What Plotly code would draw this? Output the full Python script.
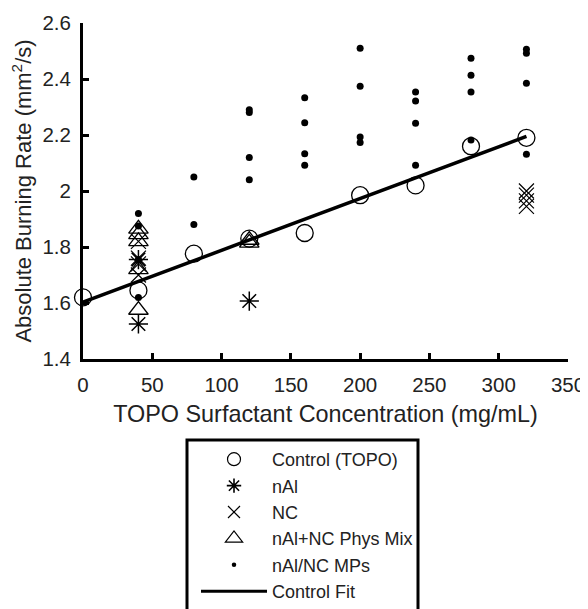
import plotly.graph_objects as go

# ---- data ----
control_x = [0, 40, 80, 120, 160, 200, 240, 280, 320]
control_y = [1.62, 1.645, 1.776, 1.83, 1.85, 1.985, 2.02, 2.16, 2.19]

nal_x = [40, 40, 120]
nal_y = [1.755, 1.525, 1.607]

nc_x = [40, 40, 40, 40, 320, 320, 320, 320]
nc_y = [1.82, 1.76, 1.74, 1.70, 2.00, 1.985, 1.965, 1.945]

mix_x = [40, 40, 40, 40, 40, 120, 120]
mix_y = [1.865, 1.845, 1.82, 1.72, 1.575, 1.825, 1.815]

mp_x = [40, 40, 40, 40,
        80, 80,
        120, 120, 120, 120,
        160, 160, 160, 160,
        200, 200, 200, 200,
        240, 240, 240, 240,
        280, 280, 280, 280,
        320, 320, 320, 320]
mp_y = [1.92, 1.875, 1.755, 1.62,
        2.05, 1.88,
        2.29, 2.28, 2.12, 2.04,
        2.333, 2.244, 2.133, 2.092,
        2.51, 2.374, 2.193, 2.173,
        2.354, 2.321, 2.242, 2.092,
        2.474, 2.413, 2.354, 2.182,
        2.506, 2.492, 2.385, 2.131]

fit_x = [0, 320]
fit_y = [1.603, 2.195]

x_ticks = [0, 50, 100, 150, 200, 250, 300, 350]
y_ticks = [1.4, 1.6, 1.8, 2.0, 2.2, 2.4, 2.6]
y_tick_labels = ["1.4", "1.6", "1.8", "2", "2.2", "2.4", "2.6"]

names = ["Control (TOPO)", "nAl", "NC", "nAl+NC Phys Mix", "nAl/NC MPs", "Control Fit"]

FONT = "Liberation Sans, Arial, sans-serif"
fig = go.Figure()

def mk(symbol, size, lw=1.3):
    return dict(symbol=symbol, size=size, color="black",
                line=dict(color="black", width=lw))

# plotted data (no legend)
fig.add_trace(go.Scatter(x=mp_x, y=mp_y, mode="markers", showlegend=False,
                         marker=dict(symbol="circle", size=7, color="black"), cliponaxis=False))
fig.add_trace(go.Scatter(x=control_x, y=control_y, mode="markers", showlegend=False,
                         marker=mk("circle-open", 17), cliponaxis=False))
fig.add_trace(go.Scatter(x=nal_x, y=nal_y, mode="markers", showlegend=False,
                         marker=mk("asterisk-open", 16, 1.5), cliponaxis=False))
fig.add_trace(go.Scatter(x=nc_x, y=nc_y, mode="markers", showlegend=False,
                         marker=mk("x-thin-open", 15, 1.2), cliponaxis=False))
fig.add_trace(go.Scatter(x=mix_x, y=mix_y, mode="markers", showlegend=False,
                         marker=mk("triangle-up-open", 17), cliponaxis=False))
fig.add_trace(go.Scatter(x=fit_x, y=fit_y, mode="lines", showlegend=False,
                         line=dict(color="black", width=3.5), cliponaxis=False))

# legend entries
leg_specs = [
    dict(mode="markers", marker=mk("circle-open", 13, 1.2)),
    dict(mode="markers", marker=mk("asterisk-open", 12, 1.6)),
    dict(mode="markers", marker=mk("x-thin-open", 12, 1.2)),
    dict(mode="markers", marker=mk("triangle-up-open", 15, 1.2)),
    dict(mode="markers", marker=dict(symbol="circle", size=4.5, color="black")),
    dict(mode="lines", line=dict(color="black", width=3)),
]
for nm, spec in zip(names, leg_specs):
    fig.add_trace(go.Scatter(x=[None], y=[None], name=nm, showlegend=True, **spec))

# The page body adds an 8px offset, so the figure is 8px smaller and
# page coordinates are converted by subtracting 8.
OFF = 8
W, H = 588 - OFF, 609 - OFF
PL, PR, PT, PB = 83, 568, 23, 359          # plot area in page pixels
L, R, T, B = PL - OFF, W - (PR - OFF), PT - OFF, H - (PB - OFF)
pw, ph = W - L - R, H - T - B

def px2paper_x(px):
    return (px - OFF - L) / pw

def px2paper_y(py):
    return (H - B - (py - OFF)) / ph

axis_common = dict(showline=True, linewidth=3, linecolor="black", mirror=False,
                   ticks="inside", ticklen=6, tickwidth=3, tickcolor="black",
                   showgrid=False, zeroline=False, ticklabelstandoff=5,
                   tickfont=dict(family=FONT, size=20.5, color="#222"))

fig.update_layout(
    width=W, height=H, autosize=False,
    margin=dict(l=L, r=R, t=T, b=B, autoexpand=False),
    paper_bgcolor="white", plot_bgcolor="white",
    font=dict(family=FONT, color="black"),
    xaxis=dict(range=[0, 350], tickvals=x_ticks,
               title=dict(text="TOPO Surfactant Concentration (mg/mL)",
                          font=dict(family=FONT, size=23.4, color="#222"), standoff=12),
               **axis_common),
    yaxis=dict(range=[1.4, 2.6], tickvals=y_ticks, ticktext=y_tick_labels,
               title=dict(text="Absolute Burning Rate (mm<sup>2</sup>/s)",
                          font=dict(family=FONT, size=22, color="#222"), standoff=10),
               **axis_common),
    legend=dict(x=px2paper_x(196), y=px2paper_y(441), xanchor="left", yanchor="top",
                bgcolor="rgba(0,0,0,0)", borderwidth=0,
                font=dict(family=FONT, size=18, color="#222"),
                itemwidth=66, traceorder="normal"),
    shapes=[dict(type="rect", xref="paper", yref="paper",
                 x0=px2paper_x(187), x1=px2paper_x(418),
                 y0=px2paper_y(440), y1=px2paper_y(640),
                 line=dict(color="black", width=3), fillcolor="rgba(0,0,0,0)")],
)

fig.write_html("out.html")
